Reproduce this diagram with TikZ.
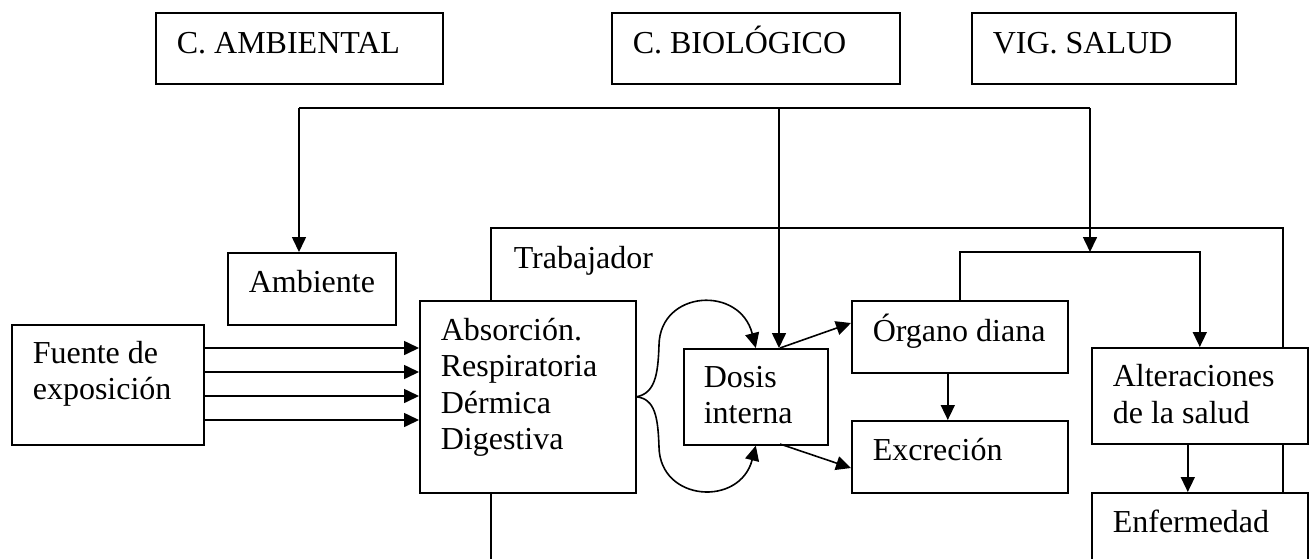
\documentclass[tikz,border=0pt]{standalone}
\usepackage{fontspec}
\setmainfont{Liberation Serif}
\usetikzlibrary{arrows.meta}

\begin{document}
\begin{tikzpicture}[x=1pt, y=-1pt, line width=1.6pt,
  caja/.style={draw, fill=white, anchor=north west, inner sep=0pt},
  texto/.style={anchor=base west, align=left, inner sep=0pt,
    font=\fontsize{32}{36.5}\selectfont},
  flecha/.style={-{Triangle[length=15pt, width=14pt]}}]
  \useasboundingbox (0,0) rectangle (1314,558);

  % marco del trabajador
  \draw (491,575) -- (491,228) -- (1283,228) -- (1283,575);

  % controles
  \node[caja, minimum width=287pt, minimum height=71pt] (camb) at (155,12) {};
  \node[caja, minimum width=288pt, minimum height=71pt] (cbio) at (611,12) {};
  \node[caja, minimum width=264pt, minimum height=71pt] (vig) at (971,12) {};
  \node[texto] (camb-t) at ([shift={(21,41)}]camb.north west) {C. AMBIENTAL};
  \node[texto] (cbio-t) at ([shift={(21,41)}]cbio.north west) {C. BIOLÓGICO};
  \node[texto] (vig-t) at ([shift={(21,41)}]vig.north west) {VIG. SALUD};

  % cajas
  \node[caja, minimum width=168pt, minimum height=72pt] (amb) at (227,252) {};
  \node[caja, minimum width=192pt, minimum height=120pt] (fuente) at (11,324) {};
  \node[caja, minimum width=216pt, minimum height=192pt] (absor) at (419,300) {};
  \node[caja, minimum width=144pt, minimum height=96pt] (dosis) at (683,348) {};
  \node[caja, minimum width=216pt, minimum height=72pt] (organo) at (851,300) {};
  \node[caja, minimum width=216pt, minimum height=72pt] (excre) at (851,420) {};
  \node[caja, minimum width=216pt, minimum height=96pt] (alter) at (1091,347) {};
  \node[caja, minimum width=216pt, minimum height=96pt] (enferm) at (1091,492) {};

  % texto (la base es la de la ultima linea)
  \node[texto] (amb-t) at ([shift={(21,40)}]amb.north west) {Ambiente};
  \node[texto] (fuente-t) at ([shift={(21,75.5)}]fuente.north west) {Fuente de\\exposición};
  \node[texto] (absor-t) at ([shift={(21,149.5)}]absor.north west)
    {Absorción.\\Respiratoria\\Dérmica\\Digestiva};
  \node[texto] (dosis-t) at ([shift={(20,75.5)}]dosis.north west) {Dosis\\interna};
  \node[texto] (organo-t) at ([shift={(21,41)}]organo.north west) {Órgano diana};
  \node[texto] (excre-t) at ([shift={(21,40)}]excre.north west) {Excreción};
  \node[texto] (alter-t) at ([shift={(21,76)}]alter.north west) {Alteraciones\\de la salud};
  \node[texto] (enferm-t) at ([shift={(21,40)}]enferm.north west) {Enfermedad};
  \node[texto] (trab-t) at (513,268) {Trabajador};

  % barra superior
  \coordinate (barraI) at (299,108);
  \coordinate (barraD) at (1090,108);
  \coordinate (rama) at (1090,252);
  \draw (barraI) -- (barraD);
  \draw[flecha] (barraI) -- (barraI |- amb.north);
  \draw[flecha] (779,108) -- (779,348);
  \draw[flecha] (barraD) -- (rama);
  \draw[flecha] (organo.north) |- (rama) -| (alter.north);

  % vias de entrada
  \foreach \y in {348,372,396,420}
    \draw[flecha] (fuente.east |- 0,\y) -- (absor.west |- 0,\y);

  % absorcion y dosis interna
  \draw[flecha] (absor.east) .. controls (655,393) and (658,375) .. (659,345)
    .. controls (660,290) and (740,285) .. (dosis.north);
  \draw[flecha] (absor.east) .. controls (655,399) and (658,417) .. (659,447)
    .. controls (660,502) and (740,507) .. (dosis.south);
  \draw[flecha] (780,348) -- (organo.west |- 0,323);
  \draw[flecha] (780,444) -- (excre.west |- 0,468);
  \draw[flecha] ([xshift=-12pt]organo.south) -- ([xshift=-12pt]excre.north);
  \draw[flecha] ([xshift=-12pt]alter.south) -- ([xshift=-12pt]enferm.north);
\end{tikzpicture}
\end{document}
